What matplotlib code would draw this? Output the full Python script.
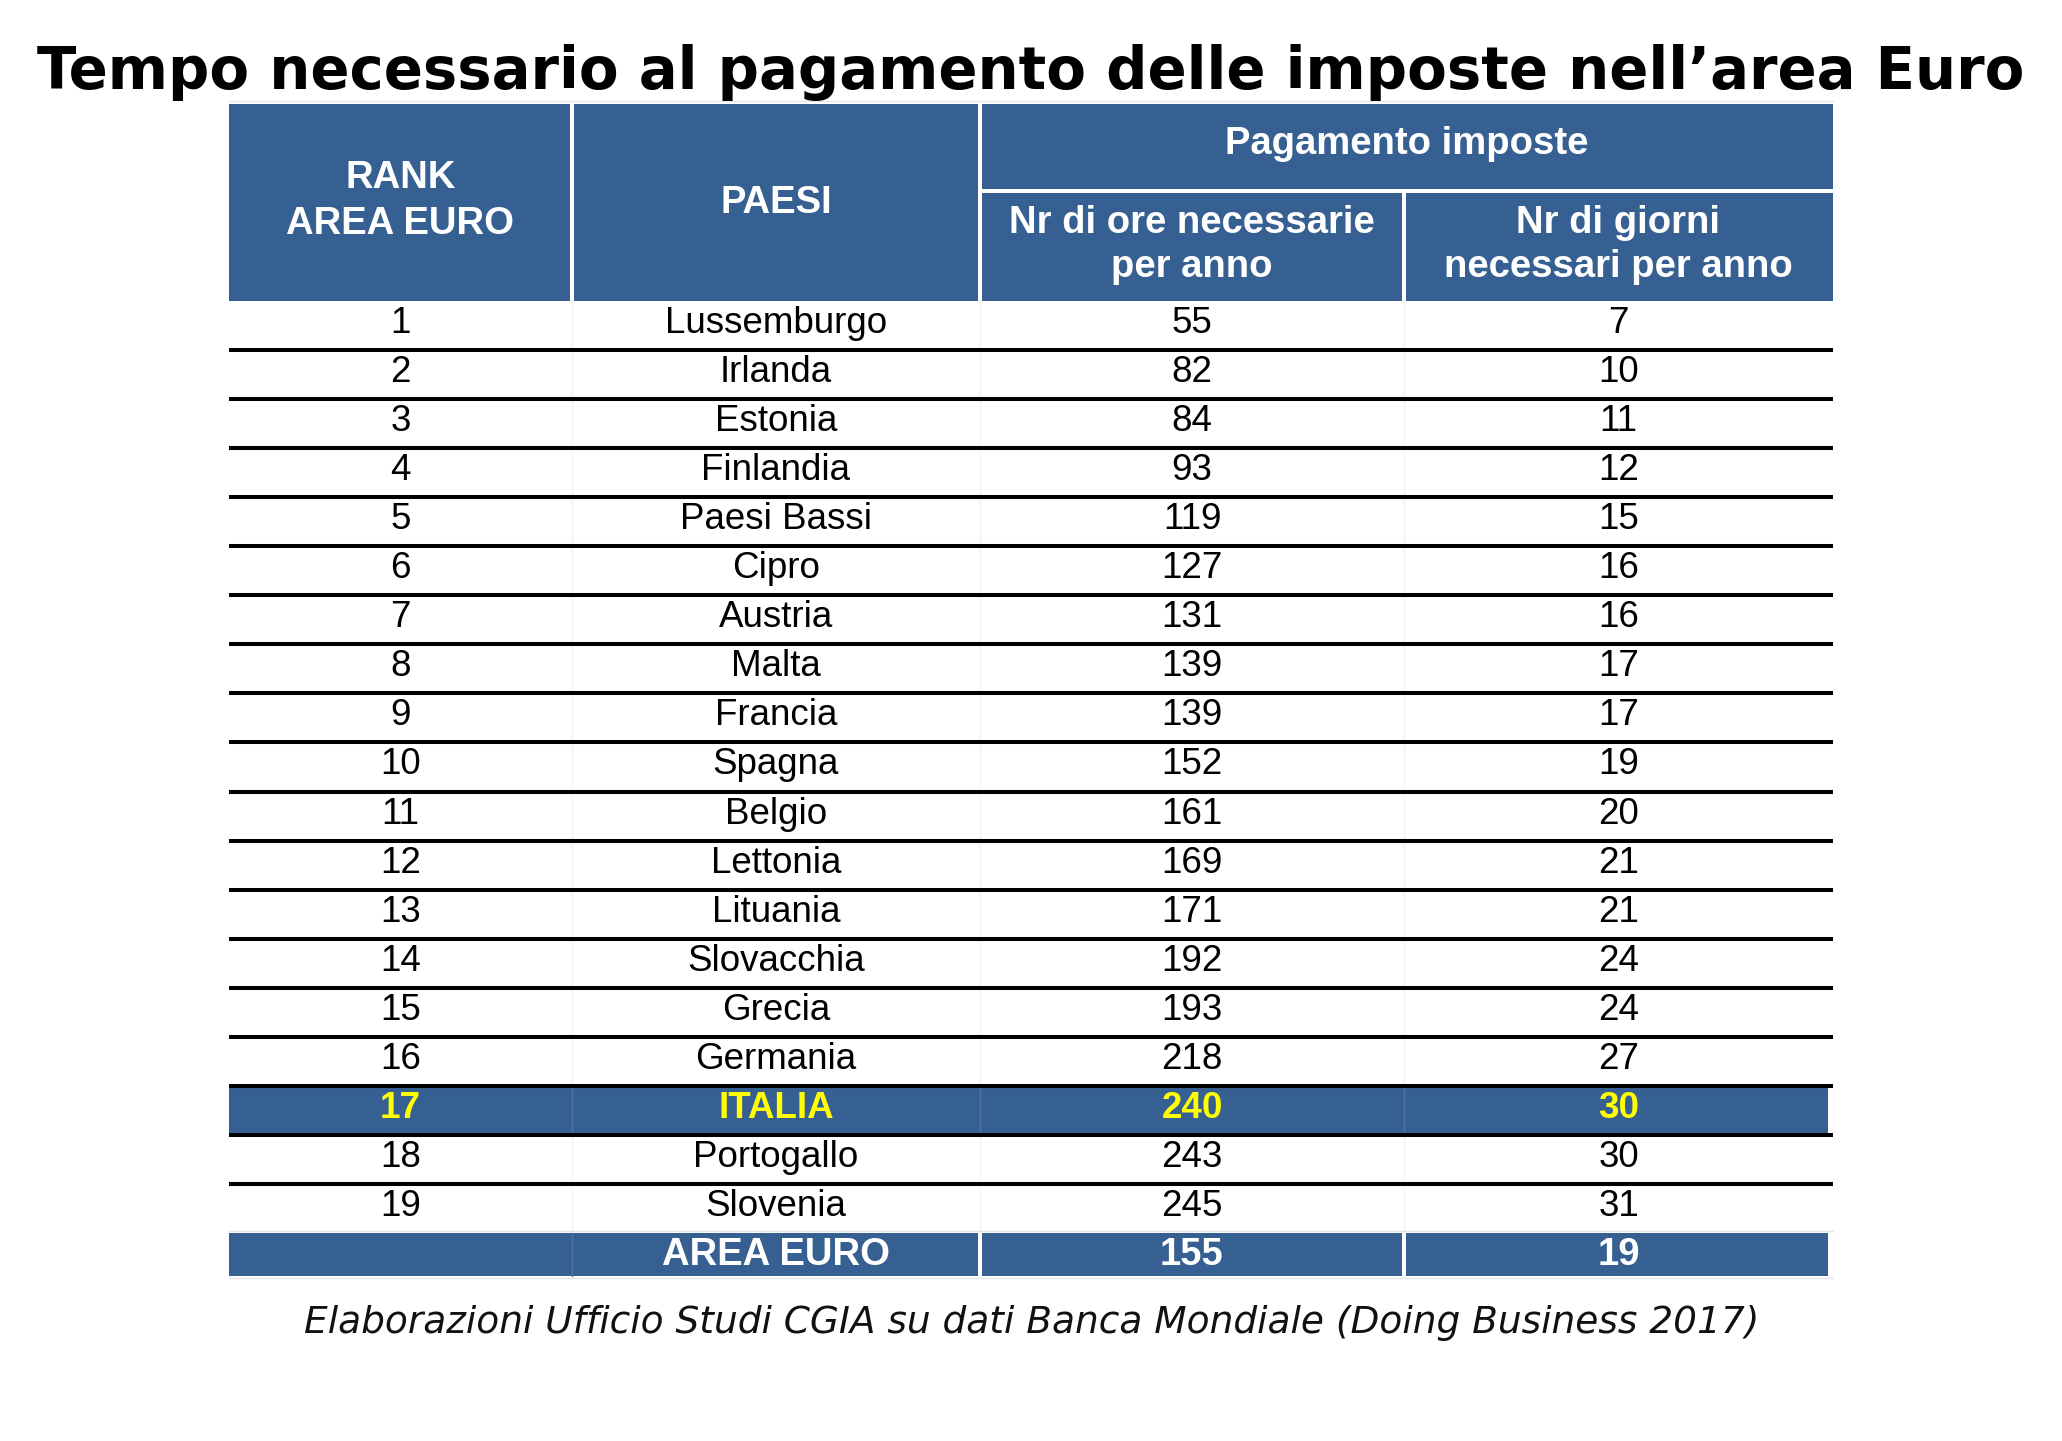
from __future__ import annotations

import matplotlib
matplotlib.use("Agg")
import matplotlib.pyplot as plt
from matplotlib.patches import Rectangle

# ---------- data ----------
title = "Tempo necessario al pagamento delle imposte nell\u2019area Euro"
footer = "Elaborazioni Ufficio Studi CGIA su dati Banca Mondiale (Doing Business 2017)"

ranks = [1, 2, 3, 4, 5, 6, 7, 8, 9, 10, 11, 12, 13, 14, 15, 16, 17, 18, 19]
paesi = [
    "Lussemburgo", "Irlanda", "Estonia", "Finlandia", "Paesi Bassi", "Cipro",
    "Austria", "Malta", "Francia", "Spagna", "Belgio", "Lettonia", "Lituania",
    "Slovacchia", "Grecia", "Germania", "ITALIA", "Portogallo", "Slovenia",
]
ore = [55, 82, 84, 93, 119, 127, 131, 139, 139, 152, 161, 169, 171, 192, 193, 218, 240, 243, 245]
giorni = [7, 10, 11, 12, 15, 16, 16, 17, 17, 19, 20, 21, 21, 24, 24, 27, 30, 30, 31]

area_label = "AREA EURO"
area_ore = 155
area_giorni = 19

highlight = "ITALIA"

# ---------- layout (pixel units) ----------
W, H = 2062, 1441
BLUE = "#376092"
YELLOW = "#FFFF00"

col_edges = [229, 572, 980, 1404, 1833]
head_top, head_mid, head_bot = 104, 191, 301
row_h = 49.05
gap = 4

plt.rcParams["font.family"] = ["Liberation Sans", "DejaVu Sans"]

fig = plt.figure(figsize=(W / 100, H / 100), dpi=100)
ax = fig.add_axes([0, 0, 1, 1])
ax.set_xlim(0, W)
ax.set_ylim(H, 0)
ax.axis("off")


def cell(x0, x1, y0, y1, color=BLUE):
    ax.add_patch(Rectangle((x0, y0), x1 - x0, y1 - y0, facecolor=color,
                           edgecolor="none", zorder=1))


def center(i):
    return (col_edges[i] + col_edges[i + 1]) / 2


# ---------- header ----------
hfs = 27.5
cell(col_edges[0], col_edges[1] - gap / 2, head_top, head_bot)
cell(col_edges[1] + gap / 2, col_edges[2] - gap / 2, head_top, head_bot)
cell(col_edges[2] + gap / 2, col_edges[4], head_top, head_mid - gap / 2)
cell(col_edges[2] + gap / 2, col_edges[3] - gap / 2, head_mid + gap / 2, head_bot)
cell(col_edges[3] + gap / 2, col_edges[4], head_mid + gap / 2, head_bot)
ax.plot([col_edges[0], col_edges[4]], [head_top - 3, head_top - 3],
        color="#E6E6E6", lw=1.0, zorder=2)

hkw = dict(color="white", fontweight="bold", fontsize=hfs, ha="center",
           va="baseline", zorder=3)
ax.text(center(0), 188, "RANK", **hkw)
ax.text(center(0), 234, "AREA EURO", **hkw)
ax.text(center(1), 213, "PAESI", **hkw)
ax.text((col_edges[2] + col_edges[4]) / 2, 154, "Pagamento imposte", **hkw)
ax.text(center(2), 233, "Nr di ore necessarie", **hkw)
ax.text(center(2), 277, "per anno", **hkw)
ax.text(center(3), 233, "Nr di giorni", **hkw)
ax.text(center(3), 277, "necessari per anno", **hkw)

# ---------- body ----------
bfs = 26.5
n = len(paesi)
for i in range(n):
    top = head_bot + i * row_h
    vals = [str(ranks[i]), paesi[i], str(ore[i]), str(giorni[i])]
    if paesi[i] == highlight:
        cell(col_edges[0], col_edges[4] - 5, top, top + row_h)
        for e in col_edges[1:4]:
            ax.plot([e, e], [top, top + row_h], color="#4A72A3", lw=1.0, zorder=2)
        kw = dict(color=YELLOW, fontweight="bold")
    else:
        for e in col_edges[1:4]:
            ax.plot([e, e], [top, top + row_h], color="#F2F2F2", lw=1.0, zorder=0.5)
        kw = dict(color="black")
    for c, v in enumerate(vals):
        ax.text(center(c), top + 32, v, fontsize=bfs, ha="center",
                va="baseline", zorder=3, **kw)
    if i > 0:
        ax.plot([col_edges[0], col_edges[4]], [top, top], color="black",
                lw=2.9, solid_capstyle="butt", zorder=4)

# ---------- area euro row ----------
a_top = head_bot + n * row_h
a_bot = a_top + 43
cell(col_edges[0], col_edges[2] - gap / 2, a_top, a_bot)
cell(col_edges[2] + gap / 2, col_edges[3] - gap / 2, a_top, a_bot)
cell(col_edges[3] + gap / 2, col_edges[4] - 5, a_top, a_bot)
ax.plot([col_edges[1], col_edges[1]], [a_top, a_bot], color="#4A72A3", lw=1.0, zorder=2)
ax.plot([col_edges[0], col_edges[4]], [a_top - 2, a_top - 2], color="#E4E4E4", lw=1.0, zorder=2)
ax.plot([col_edges[0], col_edges[4]], [a_bot + 2, a_bot + 2], color="#E4E4E4", lw=1.0, zorder=2)
akw = dict(color="white", fontweight="bold", fontsize=hfs, ha="center",
           va="baseline", zorder=3)
ax.text(center(1), a_top + 32, area_label, **akw)
ax.text(center(2), a_top + 32, str(area_ore), **akw)
ax.text(center(3), a_top + 32, str(area_giorni), **akw)

# ---------- title and source ----------
ax.text(1031, 89, title, fontsize=41.6, fontweight="bold", ha="center",
        va="baseline", color="black", family="DejaVu Sans")
ax.text(1032, 1333, footer, fontsize=27, style="italic", ha="center",
        va="baseline", color="#111111", family="DejaVu Sans")

fig.savefig("out.png", dpi=100)
plt.close(fig)
